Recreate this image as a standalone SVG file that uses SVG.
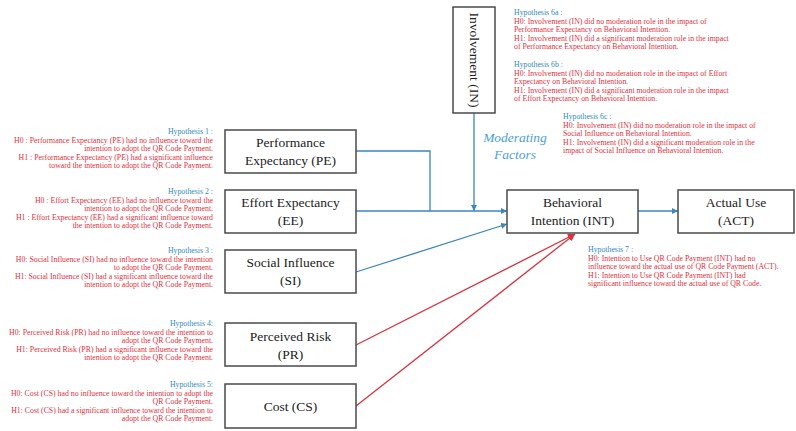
<svg xmlns="http://www.w3.org/2000/svg" width="796" height="431" viewBox="0 0 796 431">
<style>
.box{fill:#fff;stroke:#4a4a4a;stroke-width:1.5}
.nt{font-family:'Liberation Serif','Times New Roman','DejaVu Serif',serif;font-size:13.5px;fill:#222;text-anchor:middle}
.h{font-family:'Liberation Serif','Times New Roman','DejaVu Serif',serif;font-size:7.8px}
.ht{fill:#2e8bc0}
.hr{fill:#e0303c}
.L{text-anchor:end}
.bl{stroke:#3a86bd;stroke-width:1.3;fill:none}
.rd{stroke:#d8323f;stroke-width:1.3;fill:none}
.mod{font-family:'Liberation Serif','Times New Roman','DejaVu Serif',serif;font-style:italic;font-size:13.5px;fill:#4a9fd6;text-anchor:middle}
</style>
<defs>
<marker id="ab" viewBox="0 0 10 10" refX="10" refY="5" markerWidth="6" markerHeight="6" orient="auto" markerUnits="userSpaceOnUse"><path d="M0,0 L10,5 L0,10 z" fill="#3a86bd"/></marker>
<marker id="ar" viewBox="0 0 10 10" refX="10" refY="5" markerWidth="7" markerHeight="7" orient="auto" markerUnits="userSpaceOnUse"><path d="M0,0 L10,5 L0,10 z" fill="#d8323f"/></marker>
</defs>
<rect width="796" height="431" fill="#fff"/>

<g id="connectors">
<polyline class="bl" points="356,151 430,151 430,211"/>
<line class="bl" x1="356" y1="211" x2="507" y2="211" marker-end="url(#ab)"/>
<line class="bl" x1="474" y1="113" x2="474" y2="211" marker-end="url(#ab)"/>
<line class="bl" x1="356" y1="272" x2="507" y2="224" marker-end="url(#ab)"/>
<line class="rd" x1="356" y1="345" x2="575" y2="234" marker-end="url(#ar)"/>
<line class="rd" x1="356" y1="406" x2="575" y2="234" marker-end="url(#ar)"/>
<line class="bl" x1="638" y1="211" x2="678" y2="211" marker-end="url(#ab)"/>
</g>

<g id="PE"><rect class="box" x="225" y="130" width="131" height="43"/><text class="nt" x="290.5" y="147">Performance</text><text class="nt" x="290.5" y="165">Expectancy (PE)</text></g>
<g id="EE"><rect class="box" x="225" y="190" width="131" height="43"/><text class="nt" x="290.5" y="207">Effort Expectancy</text><text class="nt" x="290.5" y="225">(EE)</text></g>
<g id="SI"><rect class="box" x="225" y="250" width="131" height="43"/><text class="nt" x="290.5" y="267">Social Influence</text><text class="nt" x="290.5" y="285">(SI)</text></g>
<g id="PR"><rect class="box" x="225" y="323" width="131" height="43"/><text class="nt" x="290.5" y="341">Perceived Risk</text><text class="nt" x="290.5" y="359">(PR)</text></g>
<g id="CS"><rect class="box" x="225" y="384" width="131" height="44"/><text class="nt" x="290.5" y="410.5">Cost (CS)</text></g>
<g id="INT"><rect class="box" x="507" y="190" width="131" height="43"/><text class="nt" x="572.5" y="207">Behavioral</text><text class="nt" x="572.5" y="225">Intention (INT)</text></g>
<g id="ACT"><rect class="box" x="678" y="190" width="116" height="43"/><text class="nt" x="736" y="207">Actual Use</text><text class="nt" x="736" y="225">(ACT)</text></g>
<g id="IN"><rect class="box" x="453" y="7" width="42" height="106"/><text class="nt" transform="translate(469.5,60) rotate(90)" x="0" y="0">Involvement (IN)</text></g>

<g id="moderating"><text class="mod" x="515" y="142">Moderating</text><text class="mod" x="515" y="159">Factors</text></g>

<g id="hyp-left" class="h">
<text class="ht L" x="213" y="134">Hypothesis 1 :</text>
<text class="hr L" x="213" y="142.6">H0 : Performance Expectancy (PE) had no influence toward the</text>
<text class="hr L" x="213" y="151.2">intention to adopt the QR Code Payment.</text>
<text class="hr L" x="213" y="159.8">H1 : Performance Expectancy (PE) had a significant influence</text>
<text class="hr L" x="213" y="168.4">toward the intention to adopt the QR Code Payment.</text>

<text class="ht L" x="213" y="194">Hypothesis 2 :</text>
<text class="hr L" x="213" y="202.6">H0 : Effort Expectancy (EE) had no influence toward the</text>
<text class="hr L" x="213" y="211.2">intention to adopt the QR Code Payment.</text>
<text class="hr L" x="213" y="219.8">H1 : Effort Expectancy (EE) had a significant influence toward</text>
<text class="hr L" x="213" y="228.4">the intention to adopt the QR Code Payment.</text>

<text class="ht L" x="213" y="253">Hypothesis 3 :</text>
<text class="hr L" x="213" y="261.6">H0: Social Influence (SI) had no influence toward the intention</text>
<text class="hr L" x="213" y="270.2">to adopt the QR Code Payment.</text>
<text class="hr L" x="213" y="278.8">H1: Social Influence (SI) had a significant influence toward the</text>
<text class="hr L" x="213" y="287.4">intention to adopt the QR Code Payment.</text>

<text class="ht L" x="213" y="326">Hypothesis 4:</text>
<text class="hr L" x="213" y="334.6">H0: Perceived Risk (PR) had no influence toward the intention to</text>
<text class="hr L" x="213" y="343.2">adopt the QR Code Payment.</text>
<text class="hr L" x="213" y="351.8">H1: Perceived Risk (PR) had a significant influence toward the</text>
<text class="hr L" x="213" y="360.4">intention to adopt the QR Code Payment.</text>

<text class="ht L" x="213" y="387">Hypothesis 5:</text>
<text class="hr L" x="213" y="395.6">H0: Cost (CS) had no influence toward the intention to adopt the</text>
<text class="hr L" x="213" y="404.2">QR Code Payment.</text>
<text class="hr L" x="213" y="412.8">H1: Cost (CS) had a significant influence toward the intention to</text>
<text class="hr L" x="213" y="421.4">adopt the QR Code Payment.</text>
</g>

<g id="hyp-right" class="h">
<text class="ht" x="514" y="15">Hypothesis 6a :</text>
<text class="hr" x="514" y="23.6">H0: Involvement (IN) did no moderation role in the impact of</text>
<text class="hr" x="514" y="32.2">Performance Expectancy on Behavioral Intention.</text>
<text class="hr" x="514" y="40.8">H1: Involvement (IN) did a significant moderation role in the impact</text>
<text class="hr" x="514" y="49.4">of Performance Expectancy on Behavioral Intention.</text>

<text class="ht" x="514" y="67">Hypothesis 6b :</text>
<text class="hr" x="514" y="75.6">H0: Involvement (IN) did no moderation role in the impact of Effort</text>
<text class="hr" x="514" y="84.2">Expectancy on Behavioral Intention.</text>
<text class="hr" x="514" y="92.8">H1: Involvement (IN) did a significant moderation role in the impact</text>
<text class="hr" x="514" y="101.4">of Effort Expectancy on Behavioral Intention.</text>

<text class="ht" x="563" y="119">Hypothesis 6c :</text>
<text class="hr" x="563" y="127.6">H0: Involvement (IN) did no moderation role in the impact of</text>
<text class="hr" x="563" y="136.2">Social Influence on Behavioral Intention.</text>
<text class="hr" x="563" y="144.8">H1: Involvement (IN) did a significant moderation role in the</text>
<text class="hr" x="563" y="153.4">impact of Social Influence on Behavioral Intention.</text>

<text class="ht" x="588" y="252">Hypothesis 7 :</text>
<text class="hr" x="588" y="260.6">H0: Intention to Use QR Code Payment (INT) had no</text>
<text class="hr" x="588" y="269.2">influence toward the actual use of QR Code Payment (ACT).</text>
<text class="hr" x="588" y="277.8">H1: Intention to Use QR Code Payment (INT) had</text>
<text class="hr" x="588" y="286.4">significant influence toward the actual use of QR Code.</text>
</g>
</svg>
